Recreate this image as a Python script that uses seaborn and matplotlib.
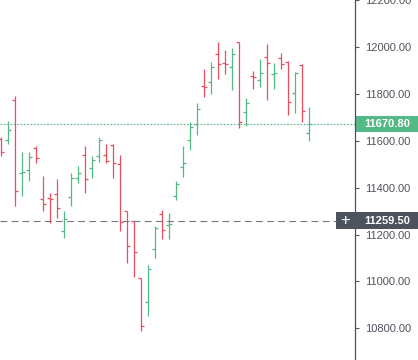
import numpy as np
import pandas as pd
import matplotlib
matplotlib.use("Agg")
import matplotlib.pyplot as plt
import matplotlib.transforms as mtransforms
from matplotlib.patches import Rectangle
import seaborn as sns

# OHLC values (oldest -> newest)
opens = [11608, 11603, 11773, 11463, 11476, 11569, 11353, 11357, 11374, 11217,
         11361, 11442, 11540, 11484, 11535, 11540, 11582, 11501, 11302, 11259,
         11013, 10911, 11140, 11289, 11242, 11365, 11489, 11603, 11671, 11835,
         11850, 11969, 11931, 11914, 12020, 11722, 11878, 11858, 11956, 11886,
         11952, 11935, 11803, 11922, 11631]
highs = [11616, 11684, 11790, 11552, 11552, 11578, 11450, 11378, 11438, 11302,
         11463, 11493, 11578, 11535, 11616, 11586, 11586, 11540, 11302, 11259,
         11013, 11068, 11238, 11306, 11293, 11429, 11578, 11680, 11761, 11905,
         11935, 12020, 11986, 11994, 12020, 11782, 11897, 11948, 12011, 11931,
         11973, 11939, 11892, 11926, 11744]
lows = [11535, 11586, 11323, 11365, 11429, 11506, 11302, 11251, 11272, 11187,
        11323, 11421, 11378, 11442, 11510, 11506, 11442, 11217, 11080, 11021,
        10787, 10851, 11102, 11183, 11183, 11348, 11446, 11561, 11625, 11786,
        11799, 11863, 11884, 11816, 11654, 11663, 11820, 11829, 11773, 11820,
        11905, 11710, 11718, 11680, 11599]
closes = [11552, 11646, 11387, 11467, 11531, 11527, 11331, 11353, 11314, 11268,
          11442, 11463, 11438, 11518, 11603, 11514, 11506, 11255, 11153, 11127,
          10808, 11051, 11229, 11221, 11246, 11416, 11506, 11659, 11735, 11831,
          11914, 11926, 11929, 11969, 11680, 11761, 11873, 11888, 11931, 11890,
          11926, 11765, 11888, 11727, 11670.80]

price_ticks = [10800, 11000, 11200, 11400, 11600, 11800, 12000, 12200]
last_price = 11670.80
cursor_price = 11259.50

UP = "#53b987"
DOWN = "#eb4d5c"

df = pd.DataFrame({"open": opens, "high": highs, "low": lows, "close": closes})
df["x"] = np.arange(len(df))
df["color"] = np.where(df["close"] >= df["open"], UP, DOWN)

sns.set_theme(style="white")
plt.rcParams["font.family"] = ["Liberation Sans", "DejaVu Sans"]

W, H = 418, 360
fig = plt.figure(figsize=(W / 100, H / 100), dpi=100)
ax_w = 355
ax = fig.add_axes([0, 0, ax_w / W, 1])

tick = 0.43
lw = 0.9
ax.vlines(df["x"], df["low"], df["high"], colors=df["color"], linewidth=lw)
ax.hlines(df["open"], df["x"] - tick, df["x"], colors=df["color"], linewidth=lw)
ax.hlines(df["close"], df["x"], df["x"] + tick, colors=df["color"], linewidth=lw)

ax.set_xlim(-1 / 7, (ax_w - 1) / 7)
ax.set_ylim(10665, 12194)

# price lines
ax.axhline(last_price, color=UP, linewidth=0.8, linestyle=(0, (1.5, 1.5)))
trans = mtransforms.blended_transform_factory(ax.transAxes, ax.transData)
ax.plot([0, 336 / ax_w], [cursor_price, cursor_price], transform=trans,
        color="#75787f", linewidth=0.8, linestyle=(0, (6, 4)))

# right price scale
ax.yaxis.tick_right()
ax.set_yticks(price_ticks)
ax.set_yticklabels([f"{v:.2f}" for v in price_ticks])
ax.tick_params(axis="y", right=True, length=3, width=0.8, color="#50535e",
               labelsize=8, labelcolor="#50535e", pad=4)
ax.set_xticks([])
for s in ["top", "left", "bottom"]:
    ax.spines[s].set_visible(False)
ax.spines["right"].set_color("#50535e")
ax.spines["right"].set_linewidth(0.9)

unit = (12194 - 10665) / H  # price per pixel
# last price label
ax.add_patch(Rectangle((1 + 1 / ax_w, last_price - 8 * unit), 62 / ax_w, 16 * unit,
                       transform=trans, facecolor=UP, edgecolor="none", clip_on=False))
ax.text(1 + 9 / ax_w, last_price, f"{last_price:.2f}", transform=trans,
        color="white", fontsize=8, fontweight="bold", va="center", ha="left", clip_on=False)
# cursor label
ax.add_patch(Rectangle((336 / ax_w, cursor_price - 8.5 * unit), 82 / ax_w, 17 * unit,
                       transform=trans, facecolor="#4c525e", edgecolor="none", clip_on=False))
ax.text(345 / ax_w, cursor_price, "+", transform=trans, color="white", fontsize=12,
        va="center", ha="center", clip_on=False)
ax.text(1 + 9 / ax_w, cursor_price, f"{cursor_price:.2f}", transform=trans,
        color="white", fontsize=8, fontweight="bold", va="center", ha="left", clip_on=False)

fig.savefig("out.png", dpi=100)
